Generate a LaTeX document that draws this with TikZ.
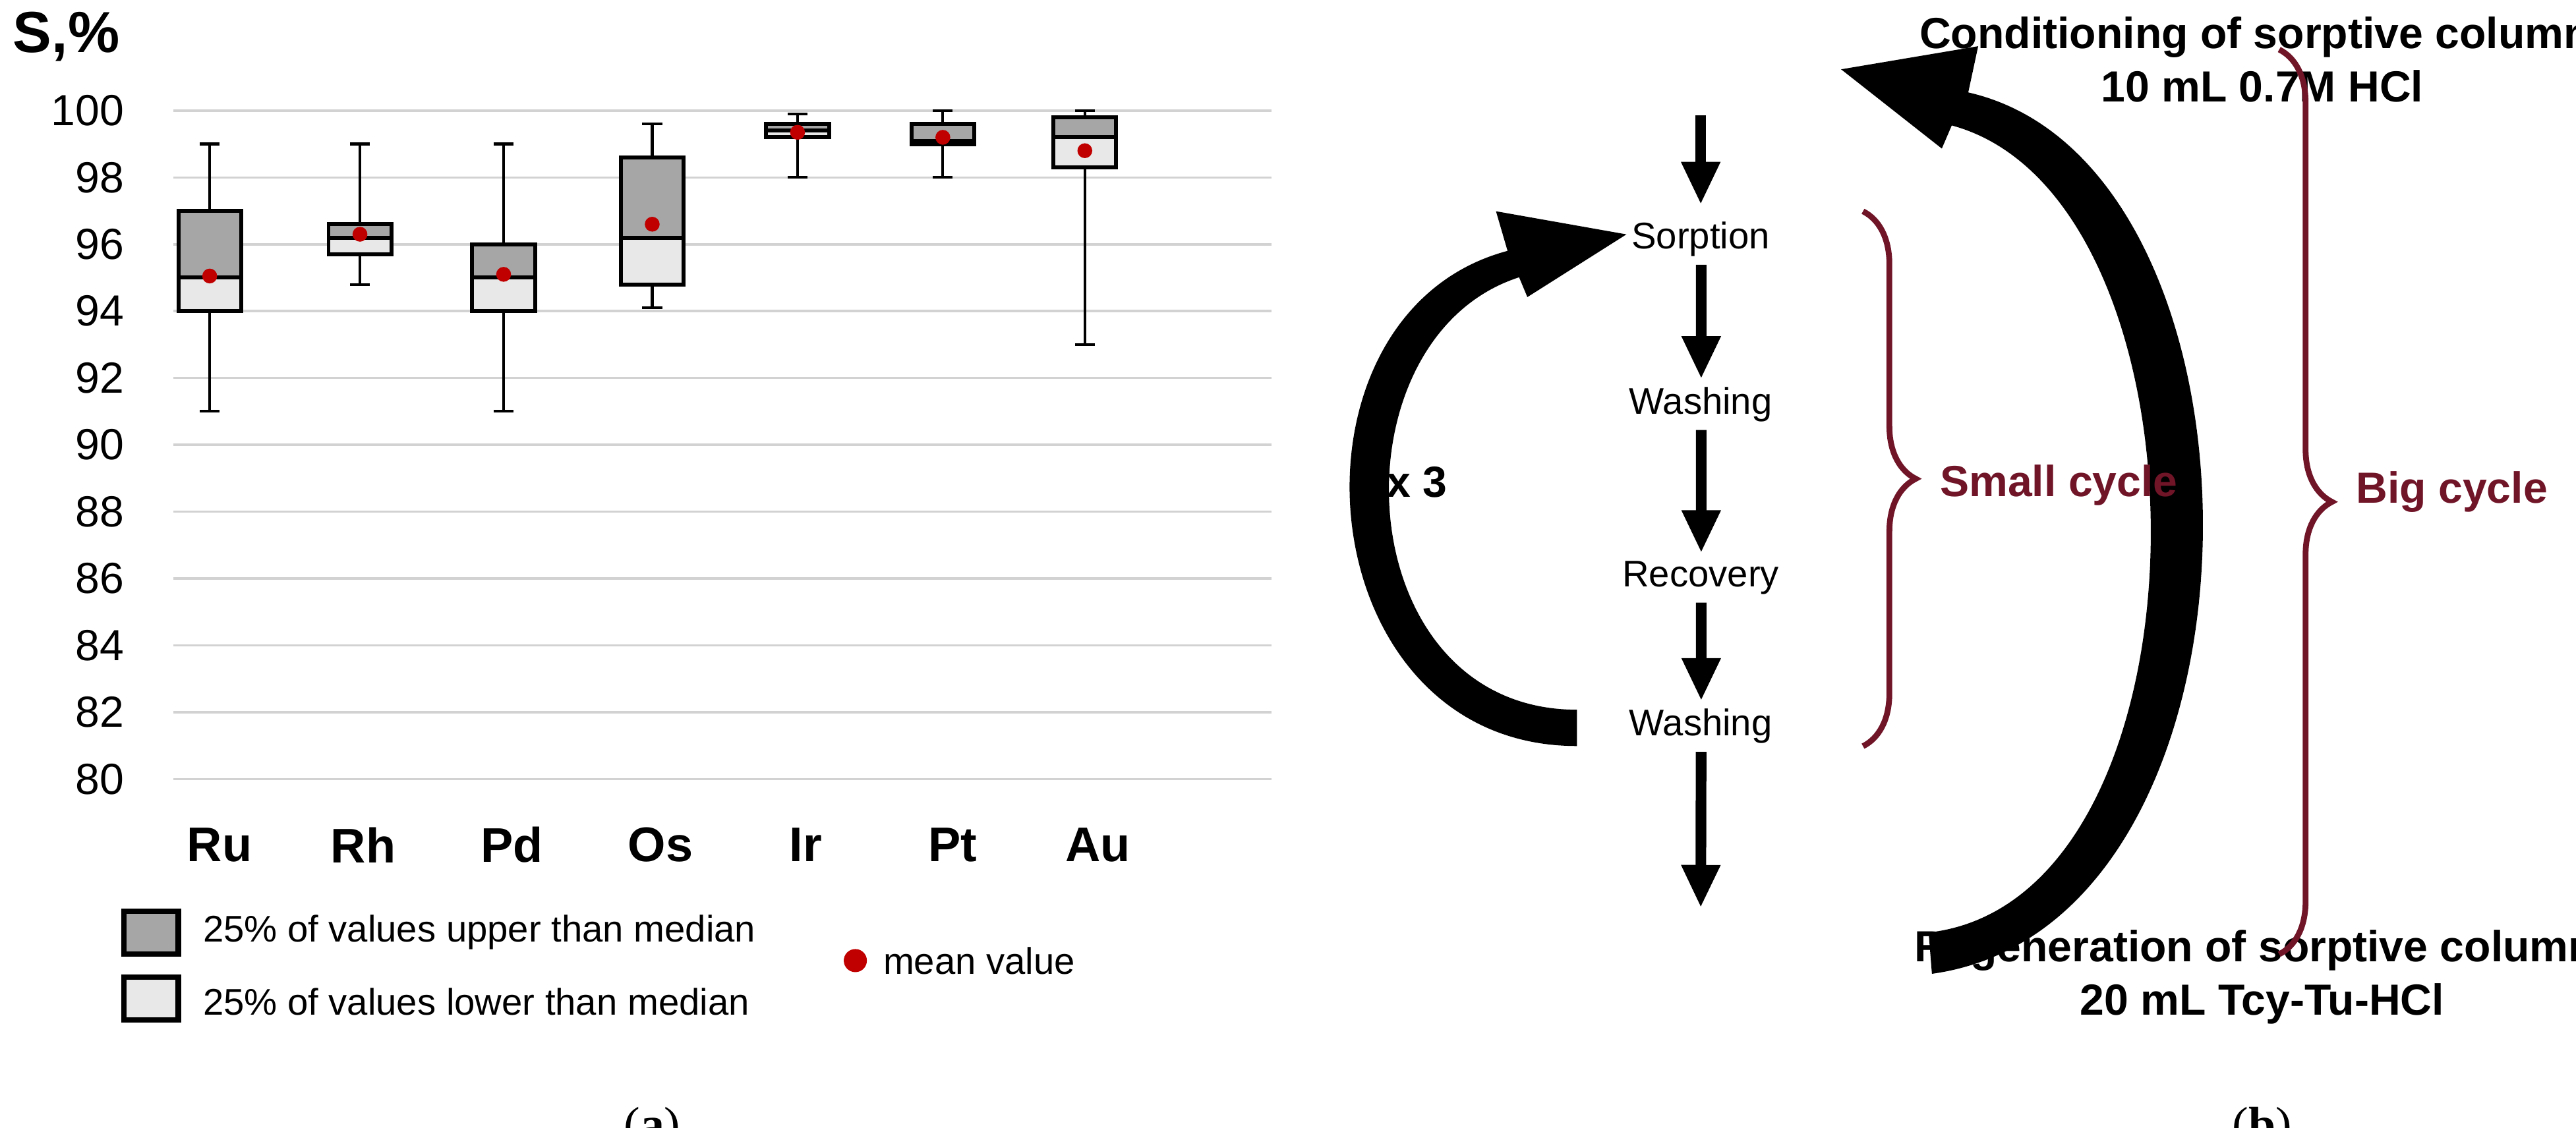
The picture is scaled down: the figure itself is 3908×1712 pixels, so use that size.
\documentclass[tikz,border=0pt]{standalone}
\usepackage{fontspec}
\setmainfont{Liberation Sans}
\newfontfamily\serif{Liberation Serif}
\usetikzlibrary{arrows.meta,decorations.pathreplacing}
\definecolor{dred}{RGB}{112,20,40}
\definecolor{mred}{RGB}{192,0,0}
\definecolor{upbox}{RGB}{166,166,166}
\definecolor{lobox}{RGB}{232,232,232}
\tikzset{
 tick/.style={font=\fontsize{18.8pt}{22pt}\selectfont,anchor=east},
 cat/.style={font=\bfseries\fontsize{21pt}{24pt}\selectfont},
 leg/.style={font=\fontsize{16pt}{19pt}\selectfont,anchor=west},
 stp/.style={font=\fontsize{16pt}{19pt}\selectfont},
 ttl/.style={font=\bfseries\fontsize{18.8pt}{23pt}\selectfont,align=center},
 down/.style={line width=4.6pt,-{Triangle[width=5.5mm,length=6.5mm]}},
 brace/.style={draw=dred,line width=2.5pt,decorate,decoration={brace,amplitude=8mm}},
 cyc/.style={text=dred,font=\bfseries\fontsize{18.8pt}{22pt}\selectfont,anchor=west},
 sub/.style={font=\serif\fontsize{21pt}{24pt}\selectfont},
}
\begin{document}
\begin{tikzpicture}[x=0.01cm,y=-0.01cm]
\useasboundingbox (0,0) rectangle (3908,1712);
\begin{scope}[scale=2.505]
\node[font=\bfseries\fontsize{25pt}{29pt}\selectfont,anchor=west] (S) at (3,22) {S,\%};
\foreach \v in {80,82,...,100}{
  \draw[gray!35,line width=1pt] (105,{67+(100-\v)*20.25}) -- (770,{67+(100-\v)*20.25});
  \node[tick] (t\v) at (80,{67+(100-\v)*20.25}) {\v};
}
\foreach \x/\wl/\wh/\qa/\qb/\md/\mn in {127/91/99/94/97/95/95.05, 218/94.8/99/95.7/96.6/96.2/96.3, 305/91/99/94/96/95/95.1, 395/94.1/99.6/94.8/98.6/96.2/96.6, 483/98/99.9/99.2/99.6/99.4/99.35, 571/98/100/99/99.6/99.1/99.2, 657/93/100/98.3/99.8/99.2/98.8}{
  \draw[line width=1.2pt] (\x,{67+(100-\wl)*20.25}) -- (\x,{67+(100-\qa)*20.25});
  \draw[line width=1.2pt] (\x,{67+(100-\wh)*20.25}) -- (\x,{67+(100-\qb)*20.25});
  \draw[line width=1.2pt] (\x-6,{67+(100-\wl)*20.25}) -- (\x+6,{67+(100-\wl)*20.25});
  \draw[line width=1.2pt] (\x-6,{67+(100-\wh)*20.25}) -- (\x+6,{67+(100-\wh)*20.25});
  \draw[fill=lobox,line width=1.7pt] (\x-19,{67+(100-\qa)*20.25}) rectangle (\x+19,{67+(100-\md)*20.25});
  \draw[fill=upbox,line width=1.7pt] (\x-19,{67+(100-\md)*20.25}) rectangle (\x+19,{67+(100-\qb)*20.25});
  \fill[mred] (\x,{67+(100-\mn)*20.25}) circle (4.5);
}
\foreach \n/\x in {Ru/133,Rh/220,Pd/310,Os/400,Ir/488,Pt/577,Au/665}
  \node[cat] (c\n) at (\x,512) {\n};
\draw[fill=upbox,line width=2.3pt] (75,552) rectangle (108,578);
\draw[fill=lobox,line width=2.3pt] (75,592) rectangle (108,618);
\node[leg] (l1) at (118,565) {25\% of values upper than median};
\node[leg] (l2) at (118,607) {25\% of values lower than median};
\fill[mred] (518,582) circle (7);
\node[leg] (l3) at (530,582) {mean value};
\node[sub] (sa) at (395,684) {(\textbf{a})};
% panel b
\node[ttl] (cond) at (1370,36) {Conditioning of sorptive column:\\10 mL 0.7M HCl};
\node[stp] (sorp) at (1030,145) {Sorption};
\node[stp] (wash1) at (1030,245) {Washing};
\node[stp] (reco) at (1030,350) {Recovery};
\node[stp] (wash2) at (1030,440) {Washing};
\node[ttl] (regen) at (1370,592) {Regeneration of sorptive column:\\20 mL Tcy-Tu-HCl};
\draw[down] (1030,70) -- (1030,124);
\draw[down] (sorp) -- (wash1);
\draw[down] (wash1) -- (reco);
\draw[down] (reco) -- (wash2);
\draw[down] (wash2) -- (1030,550);
\node[font=\bfseries\fontsize{18.8pt}{22pt}\selectfont] (x3) at (858,292) {x 3};
\fill (955,452) .. controls (790,452) and (770,190) .. (913,152) -- (906,128) -- (985,142) -- (925,180) -- (920,168) .. controls (805,205) and (815,430) .. (955,430) -- cycle;
\fill (1170,590) .. controls (1385,560) and (1385,100) .. (1192,56) -- (1198,28) -- (1115,42) -- (1176,90) -- (1182,76) .. controls (1345,120) and (1345,545) .. (1168,565) -- cycle;
\coordinate (s1) at (1128,128); \coordinate (s2) at (1128,452);
\draw[brace] (s1) -- (s2);
\node[cyc] (sc) at (1170,294) {Small cycle};
\coordinate (b1) at (1380,30); \coordinate (b2) at (1380,578);
\draw[brace] (b1) -- (b2);
\node[cyc] (bc) at (1422,298) {Big cycle};
\node[sub] (sb) at (1370,684) {(\textbf{b})};
\end{scope}
\end{tikzpicture}
\end{document}
